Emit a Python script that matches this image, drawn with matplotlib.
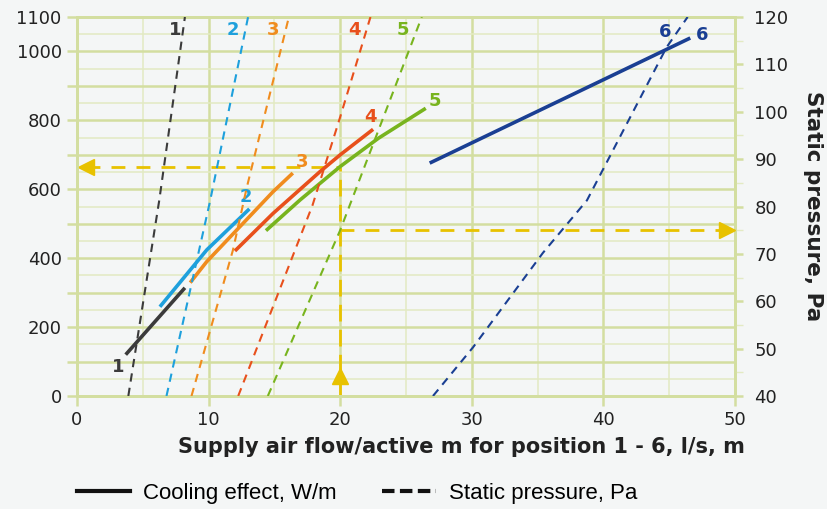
import matplotlib
matplotlib.use("Agg")
import matplotlib.pyplot as plt
from matplotlib.lines import Line2D
from matplotlib.ticker import FixedLocator, MultipleLocator

# ---------------------------------------------------------------------------
# Data
# ---------------------------------------------------------------------------

positions = ["1", "2", "3", "4", "5", "6"]
colors = ["#3b3b3b", "#1ea0dc", "#f08c1e", "#e8501c", "#78b41e", "#1a3f93"]

# Cooling effect, W/m (left axis) vs supply air flow, l/s,m
cool1_x = [3.7, 8.2]
cool1_y = [120, 314]
cool2_x = [6.3, 9.86, 13.1]
cool2_y = [259, 424, 543]
cool3_x = [8.6, 9.86, 14.9, 16.4]
cool3_y = [329, 390, 593, 647]
cool4_x = [12.0, 14.9, 18.46, 20.0, 22.5]
cool4_y = [421, 530, 651, 700, 774]
cool5_x = [14.36, 16.95, 18.46, 20.0, 22.9, 26.5]
cool5_y = [480, 569, 617, 666, 748, 835]
cool6_x = [26.8, 46.6]
cool6_y = [676, 1039]

# Static pressure, Pa (right axis) vs supply air flow, l/s,m
pres1_x = [3.9, 6.25, 8.2]
pres1_y = [40, 81.3, 120]
pres2_x = [6.8, 10.1, 13.0]
pres2_y = [40, 81, 120]
pres3_x = [8.7, 11.85, 12.9, 16.1]
pres3_y = [40, 70.8, 84, 120]
pres4_x = [12.25, 17.9, 20.0, 22.3]
pres4_y = [40, 80.3, 98.9, 120]
pres5_x = [14.5, 20.0, 26.2]
pres5_y = [40, 75, 120]
pres6_x = [27.05, 30.1, 35.4, 38.75, 44.8, 46.4]
pres6_y = [40, 50.3, 70.2, 81.3, 113.6, 120]

# label anchors (x, W/m) for the curve numbers
cool_lbl_x = [3.1, 12.8, 17.1, 22.3, 27.2, 47.5]
cool_lbl_y = [84, 578, 679, 810, 856, 1048]
pres_lbl_x = [7.45, 11.85, 14.9, 21.1, 24.8, 44.7]
pres_lbl_y = [1062, 1062, 1062, 1062, 1062, 1057]

# reading example: 20 l/s,m -> 665 W/m, 75 Pa
ex_flow = 20
ex_cool = 665
ex_pres = 75

x_ticks = [0, 10, 20, 30, 40, 50]
y_ticks = [0, 100, 200, 300, 400, 500, 600, 700, 800, 900, 1000, 1100]
y_tick_labels = ["0", "", "200", "", "400", "", "600", "", "800", "", "1000", "1100"]
p_ticks = [40, 50, 60, 70, 80, 90, 100, 110, 120]

cool_x = [cool1_x, cool2_x, cool3_x, cool4_x, cool5_x, cool6_x]
cool_y = [cool1_y, cool2_y, cool3_y, cool4_y, cool5_y, cool6_y]
pres_x = [pres1_x, pres2_x, pres3_x, pres4_x, pres5_x, pres6_x]
pres_y = [pres1_y, pres2_y, pres3_y, pres4_y, pres5_y, pres6_y]

# ---------------------------------------------------------------------------
# Style
# ---------------------------------------------------------------------------

BG = "#f4f6f6"
GRID = "#d3dea0"
GRID_MINOR = "#e3eac3"
YELLOW = "#e8c200"
TEXT = "#222222"

plt.rcParams["font.family"] = ["DejaVu Sans"]

fig = plt.figure(figsize=(8.27, 5.09), dpi=100, facecolor=BG)
ax = fig.add_axes([77 / 827, 113 / 509, 658 / 827, 379 / 509], facecolor=BG)
ax2 = ax.twinx()

ax.set_xlim(0, 50)
ax.set_ylim(0, 1100)
ax2.set_ylim(40, 120)

ax.xaxis.set_major_locator(FixedLocator(x_ticks))
ax.xaxis.set_minor_locator(MultipleLocator(5))
ax.yaxis.set_major_locator(FixedLocator(y_ticks))
ax.yaxis.set_minor_locator(MultipleLocator(50))
ax.set_yticklabels(y_tick_labels)
ax2.yaxis.set_major_locator(FixedLocator(p_ticks))
ax2.yaxis.set_minor_locator(MultipleLocator(5))

ax.grid(True, which="major", color=GRID, linewidth=1.8, zorder=0)
ax.grid(True, which="minor", color=GRID_MINOR, linewidth=1.1, zorder=0)
ax.set_axisbelow(True)

for a in (ax, ax2):
    for s in a.spines.values():
        s.set_color(GRID)
        s.set_linewidth(2)

ax.tick_params(axis="both", which="major", length=7, width=1.8, color=GRID,
               labelsize=13, labelcolor=TEXT, pad=4)
ax.tick_params(axis="both", which="minor", length=0)
ax2.tick_params(axis="y", which="major", length=6, width=1.8, color=GRID,
                labelsize=13, labelcolor=TEXT, pad=8)
ax2.tick_params(axis="y", which="minor", length=6, width=1.0, color=GRID_MINOR)

# curves
for i in range(len(positions)):
    ax.plot(cool_x[i], cool_y[i], color=colors[i], linewidth=2.6,
            solid_capstyle="butt", solid_joinstyle="round", zorder=4)
    ax2.plot(pres_x[i], pres_y[i], color=colors[i], linewidth=1.5,
             dashes=(4, 3), zorder=3)
    ax.text(cool_lbl_x[i], cool_lbl_y[i], positions[i], color=colors[i],
            fontsize=13, fontweight="bold", ha="center", va="center", zorder=5)
    ax.text(pres_lbl_x[i], pres_lbl_y[i], positions[i], color=colors[i],
            fontsize=13, fontweight="bold", ha="center", va="center", zorder=5)

# reading example in yellow
ax.plot([ex_flow, ex_flow], [0, ex_cool], color=YELLOW, linewidth=2.0,
        dashes=(6, 3), zorder=2)
ax.plot([0.65, ex_flow], [ex_cool, ex_cool], color=YELLOW, linewidth=2.0,
        dashes=(5, 4), zorder=2)
ax.plot([0.65], [ex_cool], marker="<", markersize=11, color=YELLOW, zorder=6)
ax.plot([ex_flow], [58], marker="^", markersize=11, color=YELLOW, zorder=6)
ax2.plot([ex_flow, 49.4], [ex_pres, ex_pres], color=YELLOW, linewidth=2.0,
         dashes=(5, 4), zorder=2)
ax2.plot([49.4], [ex_pres], marker=">", markersize=11, color=YELLOW, zorder=6)

ax.set_xlabel("Supply air flow/active m for position 1 - 6, l/s, m",
              fontsize=15, fontweight="bold", color=TEXT)
ax.xaxis.set_label_coords(0.584, -0.108)
ax2.set_ylabel("Static pressure, Pa", fontsize=15.5, fontweight="bold",
               color=TEXT, rotation=270, labelpad=25)

# legend
handles = [
    Line2D([], [], color="#111111", linewidth=3),
    Line2D([], [], color="#111111", linewidth=3, dashes=(3, 1.3)),
]
fig.legend(handles, ["Cooling effect, W/m", "Static pressure, Pa"],
           loc="center left", bbox_to_anchor=(77 / 827, 1 - 493 / 509),
           ncol=2, frameon=False, borderpad=0, borderaxespad=0,
           handlelength=2.4, handletextpad=0.58, columnspacing=2.05,
           prop={"family": ["Liberation Sans", "DejaVu Sans"], "size": 16})

fig.savefig("out.png", dpi=100, facecolor=BG)
